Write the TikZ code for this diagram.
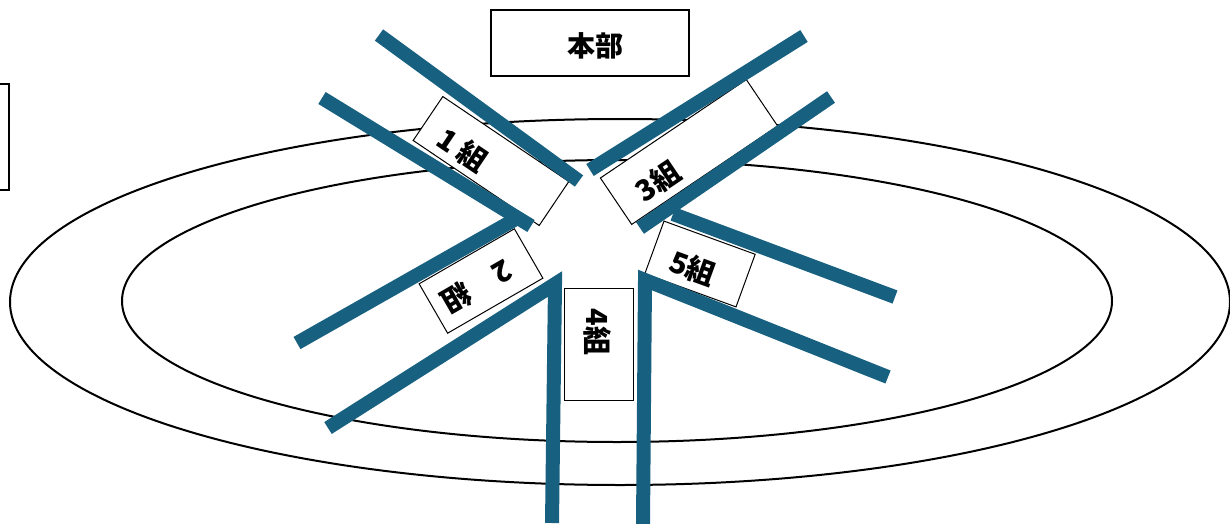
\documentclass[tikz,border=0pt]{standalone}
\usepackage{fontspec}
\newfontfamily\cjk{Noto Sans CJK JP}
\definecolor{lanec}{RGB}{24,96,128}
\begin{document}
\begin{tikzpicture}[x=1pt,y=-1pt,
  lane/.style={draw=lanec, line width=14pt, line cap=butt},
  track/.style={draw=black, line width=2pt},
  lbox/.style={draw=black, line width=1pt, fill=white, inner sep=0pt},
  ltext/.style={font=\cjk\bfseries\fontsize{29}{29}\selectfont, inner sep=0pt}
]
\useasboundingbox (0,0) rectangle (1230,524);
% track
\draw[track] (620,302) ellipse [x radius=610pt, y radius=183pt];
\draw[track] (617,301) ellipse [x radius=495pt, y radius=141pt];
% left partial box
\draw[line width=2pt] (-20,84) rectangle (9,190);
% headquarters
\node[lbox, line width=1.2pt, minimum width=198pt, minimum height=66pt] (hq) at (590,43) {};
\node[font=\cjk\bfseries\fontsize{28}{28}\selectfont, inner sep=0pt] (hqt) at (595,46) {本部};
% label boxes
\node[lbox, rotate=-34, minimum width=152pt, minimum height=53pt] (b1) at (491,161) {};
\node[lbox, rotate=34, minimum width=176pt, minimum height=56pt] (b3) at (689,152) {};
\node[lbox, rotate=30, minimum width=110pt, minimum height=57pt] (b2) at (481,281) {};
\node[lbox, minimum width=69pt, minimum height=112pt] (b4) at (598.5,344) {};
\node[lbox, rotate=-20, minimum width=97pt, minimum height=56pt] (b5) at (700,264) {};
% labels
\node[ltext, rotate=-34] (t1) at (463,150) {1 組};
\node[ltext, rotate=34] (t3) at (658,181) {3組};
\node[ltext, rotate=210] (t2) at (477,287) {2　組};
\node[ltext, rotate=-90] (t4) at (597,332) {4組};
\node[ltext, rotate=-20] (t5) at (693,268) {5組};
% lanes
\coordinate (a1) at (379,35);  \coordinate (a2) at (579,181);
\coordinate (c1) at (322,98);  \coordinate (c2) at (531,226);
\coordinate (d1) at (804,36);  \coordinate (d2) at (590,170);
\coordinate (e1) at (831,97);  \coordinate (e2) at (640,228);
\coordinate (f1) at (297,343); \coordinate (f2) at (514,220);
\coordinate (g1) at (328,428); \coordinate (g2) at (555,284); \coordinate (g3) at (552,523);
\coordinate (h1) at (888,377); \coordinate (h2) at (645,280); \coordinate (h3) at (643,524);
\coordinate (i1) at (673,214); \coordinate (i2) at (895,297);
\draw[lane] (a1) -- (a2);
\draw[lane] (c1) -- (c2);
\draw[lane] (d1) -- (d2);
\draw[lane] (e1) -- (e2);
\draw[lane] (f1) -- (f2);
\draw[lane, line join=miter] (g1) -- (g2) -- (g3);
\draw[lane, line join=miter] (h1) -- (h2) -- (h3);
\draw[lane] (i1) -- (i2);
\end{tikzpicture}
\end{document}
